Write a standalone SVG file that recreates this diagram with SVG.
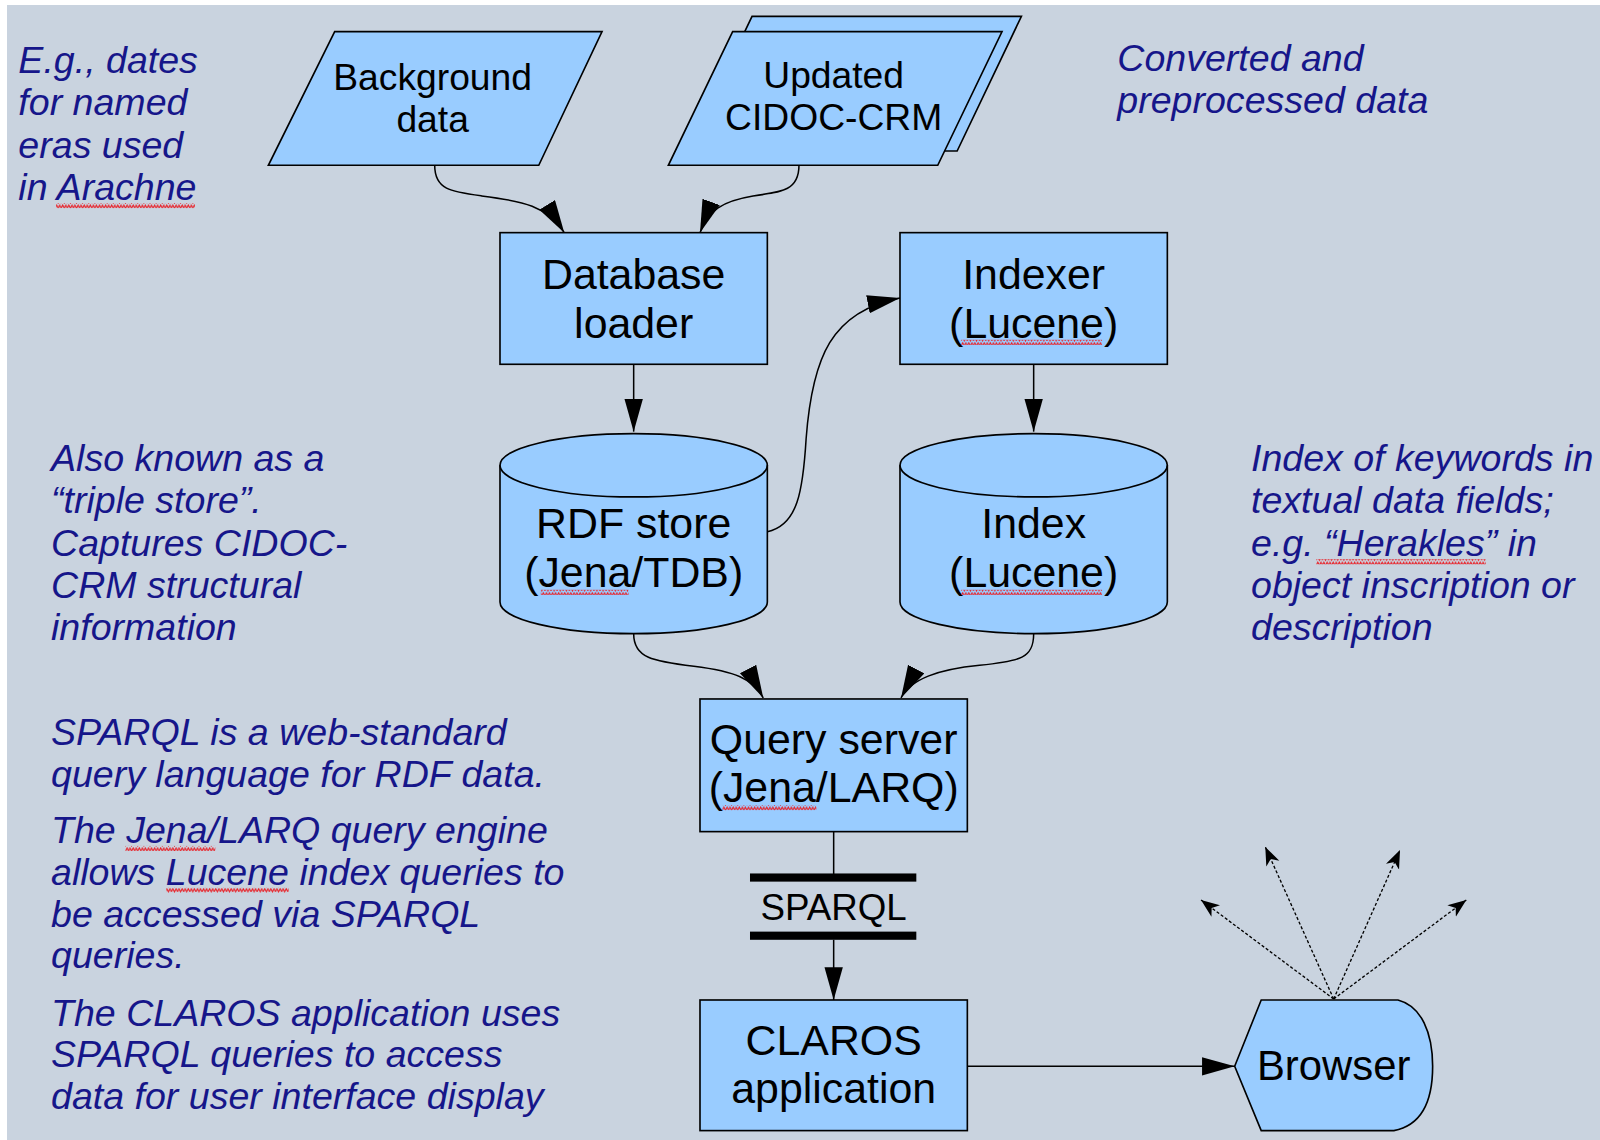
<svg xmlns="http://www.w3.org/2000/svg" width="1600" height="1140" viewBox="0 0 1600 1140">
<style>
.node{fill:#99ccff;stroke:#000;stroke-width:1.6}
.lbl{font-family:"Liberation Sans",Arial,sans-serif;fill:#000;text-anchor:middle}
.big{font-size:42px}
.mid{font-size:36.5px}
.note{font-family:"Liberation Sans",Arial,sans-serif;font-style:italic;fill:#16168a;font-size:36.8px}
.conn{fill:none;stroke:#000;stroke-width:1.5}
.dash{fill:none;stroke:#000;stroke-width:1.3;stroke-dasharray:3 2}
.squig{fill:url(#wave)}
</style>
<defs>
<marker id="ah" markerUnits="userSpaceOnUse" markerWidth="34" markerHeight="20" refX="32" refY="9" orient="auto">
<path d="M0,0 L32,9 L0,18 Z" fill="#000"/>
</marker>
<marker id="ahs" markerUnits="userSpaceOnUse" markerWidth="20" markerHeight="16" refX="18" refY="7" orient="auto">
<path d="M0,0 L18,7 L0,14 L5,7 Z" fill="#000"/>
</marker>
<pattern id="wave" patternUnits="userSpaceOnUse" width="6" height="5">
<path d="M0,4 L1.5,1 L3,4 L4.5,1 L6,4" fill="none" stroke="#e8232a" stroke-width="1.1"/>
</pattern>
</defs>
<rect x="0" y="0" width="1600" height="1140" fill="#ffffff"/>
<rect x="7" y="5" width="1593" height="1135" fill="#c9d3df"/>

<g transform="scale(1.0204)">
<g id="connectors">
<path class="conn" d="M426,162 C426,186 442,188 472,192 C512,197 537,202 553,228" marker-end="url(#ah)"/>
<path class="conn" d="M783,162 C783,186 768,188 738,192 C708,197 694,206 686,228" marker-end="url(#ah)"/>
<path class="conn" d="M621,357 L621,423" marker-end="url(#ah)"/>
<path class="conn" d="M1013,357 L1013,423" marker-end="url(#ah)"/>
<path class="conn" d="M752,521 C782,515 787,480 790,430 C796,350 815,305 882,292" marker-end="url(#ah)"/>
<path class="conn" d="M621,621 C621,645 640,648 680,653 C720,658 738,665 748,684" marker-end="url(#ah)"/>
<path class="conn" d="M1013,621 C1013,645 1000,648 960,652 C920,656 893,665 883,684" marker-end="url(#ah)"/>
<path class="conn" d="M817,815 L817,860"/>
<path class="conn" d="M817,921 L817,980" marker-end="url(#ah)"/>
<path class="conn" d="M948,1045 L1210,1045" marker-end="url(#ah)"/>
<path class="dash" d="M1307,979 L1177,882" marker-end="url(#ahs)"/>
<path class="dash" d="M1307,979 L1240,830" marker-end="url(#ahs)"/>
<path class="dash" d="M1307,979 L1372,833" marker-end="url(#ahs)"/>
<path class="dash" d="M1307,979 L1437,882" marker-end="url(#ahs)"/>
</g>

<g id="background-data">
<polygon class="node" points="328,31 590,31 528,162 263,162"/>
<text class="lbl mid" x="424" y="88">Background</text>
<text class="lbl mid" x="424" y="129">data</text>
</g>

<g id="updated-cidoc-crm">
<polygon class="node" points="737,16 1001,16 938,148 674,148"/>
<polygon class="node" points="718,31 982,31 919,162 655,162"/>
<text class="lbl mid" x="817" y="86">Updated</text>
<text class="lbl mid" x="817" y="127">CIDOC-CRM</text>
</g>

<g id="database-loader">
<rect class="node" x="490" y="228" width="262" height="129"/>
<text class="lbl big" x="621" y="283">Database</text>
<text class="lbl big" x="621" y="331">loader</text>
</g>

<g id="indexer">
<rect class="node" x="882" y="228" width="262" height="129"/>
<text class="lbl big" x="1013" y="283">Indexer</text>
<text class="lbl big" x="1013" y="331">(Lucene)</text>
<rect class="squig" x="942" y="333" width="138" height="5"/>
</g>

<g id="rdf-store">
<path class="node" d="M490,456 L490,590 A131,31 0 0 0 752,590 L752,456 A131,31 0 0 0 490,456 Z"/>
<path fill="none" stroke="#000" stroke-width="1.6" d="M490,456 A131,31 0 0 0 752,456"/>
<text class="lbl big" x="621" y="527">RDF store</text>
<text class="lbl big" x="621" y="575">(Jena/TDB)</text>
<rect class="squig" x="530" y="578" width="86" height="5"/>
</g>

<g id="index">
<path class="node" d="M882,456 L882,590 A131,31 0 0 0 1144,590 L1144,456 A131,31 0 0 0 882,456 Z"/>
<path fill="none" stroke="#000" stroke-width="1.6" d="M882,456 A131,31 0 0 0 1144,456"/>
<text class="lbl big" x="1013" y="527">Index</text>
<text class="lbl big" x="1013" y="575">(Lucene)</text>
<rect class="squig" x="942" y="578" width="138" height="5"/>
</g>

<g id="query-server">
<rect class="node" x="686" y="685" width="262" height="130"/>
<text class="lbl big" x="817" y="739">Query server</text>
<text class="lbl big" x="817" y="786">(Jena/LARQ)</text>
<rect class="squig" x="708" y="789" width="92" height="5"/>
</g>

<g id="sparql-interface">
<rect x="735" y="856" width="163" height="8" fill="#000"/>
<text class="lbl" font-size="36" x="817" y="902">SPARQL</text>
<rect x="735" y="913" width="163" height="8" fill="#000"/>
</g>

<g id="claros-application">
<rect class="node" x="686" y="980" width="262" height="128"/>
<text class="lbl big" x="817" y="1034">CLAROS</text>
<text class="lbl big" x="817" y="1081">application</text>
</g>

<g id="browser">
<path class="node" d="M1210,1045 L1236,980 L1370,980 C1393,986 1404,1012 1404,1045 C1404,1079 1393,1103 1366,1108 L1236,1108 Z"/>
<text class="lbl" font-size="41" x="1307" y="1058">Browser</text>
</g>

<g id="notes">
<text class="note" x="18" y="72">E.g., dates</text>
<text class="note" x="18" y="113">for named</text>
<text class="note" x="18" y="155">eras used</text>
<text class="note" x="18" y="196">in Arachne</text>
<rect class="squig" x="55" y="199" width="136" height="5"/>

<text class="note" x="1095" y="70">Converted and</text>
<text class="note" x="1095" y="111">preprocessed data</text>

<text class="note" x="50" y="462">Also known as a</text>
<text class="note" x="50" y="503">“triple store”.</text>
<text class="note" x="50" y="545">Captures CIDOC-</text>
<text class="note" x="50" y="586">CRM structural</text>
<text class="note" x="50" y="627">information</text>

<text class="note" x="1226" y="462">Index of keywords in</text>
<text class="note" x="1226" y="503">textual data fields;</text>
<text class="note" x="1226" y="545">e.g. “Herakles” in</text>
<text class="note" x="1226" y="586">object inscription or</text>
<text class="note" x="1226" y="627">description</text>
<rect class="squig" x="1290" y="548" width="166" height="5"/>

<text class="note" x="50" y="730">SPARQL is a web-standard</text>
<text class="note" x="50" y="771">query language for RDF data.</text>
<text class="note" x="50" y="826">The Jena/LARQ query engine</text>
<rect class="squig" x="123" y="829" width="88" height="5"/>
<text class="note" x="50" y="867">allows Lucene index queries to</text>
<rect class="squig" x="163" y="870" width="120" height="5"/>
<text class="note" x="50" y="908">be accessed via SPARQL</text>
<text class="note" x="50" y="949">queries.</text>
<text class="note" x="50" y="1005">The CLAROS application uses</text>
<text class="note" x="50" y="1046">SPARQL queries to access</text>
<text class="note" x="50" y="1087">data for user interface display</text>
</g>
</g>
</svg>
